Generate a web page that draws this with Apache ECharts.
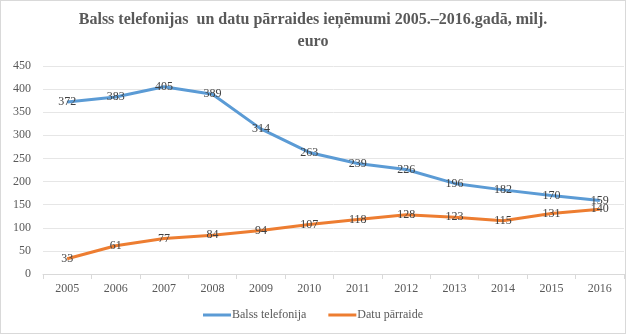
<!DOCTYPE html>
<html>
<head>
<meta charset="utf-8">
<script src="https://cdn.jsdelivr.net/npm/echarts@6/dist/echarts.min.js"></script>
<style>
html,body{margin:0;padding:0;background:#fff;}
#c{position:absolute;left:0;top:0;width:624px;height:332px;border:1px solid #d9d9d9;}
</style>
</head>
<body>
<div id="c"></div>
<script>
const years = ['2005','2006','2007','2008','2009','2010','2011','2012','2013','2014','2015','2016'];
const balss = [372,383,405,389,314,263,239,226,196,182,170,159];
const datu = [33,61,77,84,94,107,118,128,123,115,131,140];
const seriesNames = ['Balss telefonija','Datu pārraide'];
const titleText = 'Balss telefonijas  un datu pārraides ieņēmumi 2005.–2016.gadā, milj.\neuro';

const chart = echarts.init(document.getElementById('c'), null, {renderer:'canvas'});
const font = 'Liberation Serif';
const lbl = {show:true, position:'inside', color:'#404040', fontFamily:font, fontSize:12};
chart.setOption({
  animation:false,
  title:{text:titleText, left:'center', top:3,
    textStyle:{fontFamily:font, fontSize:16, fontWeight:'bold', color:'#595959', lineHeight:22}},
  legend:{bottom:7, left:'center', itemWidth:28, itemHeight:3, itemGap:22,
    icon:'rect',
    textStyle:{fontFamily:font, fontSize:12, color:'#595959', padding:[0,0,0,-4]}},
  grid:{left:42, right:1, top:65, bottom:59},
  xAxis:{type:'category', data:years, boundaryGap:true,
    axisLine:{lineStyle:{color:'#d9d9d9'}},
    axisTick:{show:true, lineStyle:{color:'#d9d9d9'}},
    axisLabel:{fontFamily:font, fontSize:12, color:'#595959', margin:9}},
  yAxis:{type:'value', min:0, max:450, interval:50,
    axisLine:{show:false}, axisTick:{show:false},
    splitLine:{lineStyle:{color:'#e6e6e6'}},
    axisLabel:{fontFamily:font, fontSize:12, color:'#595959', margin:12}},
  series:[
    {name:seriesNames[0], type:'line', data:balss, symbol:'circle', symbolSize:1, showSymbol:true,
      lineStyle:{color:'#5B9BD5', width:3}, itemStyle:{color:'#5B9BD5'},
      label:lbl},
    {name:seriesNames[1], type:'line', data:datu, symbol:'circle', symbolSize:1, showSymbol:true,
      lineStyle:{color:'#ED7D31', width:3}, itemStyle:{color:'#ED7D31'},
      label:lbl}
  ]
});
</script>
</body>
</html>
